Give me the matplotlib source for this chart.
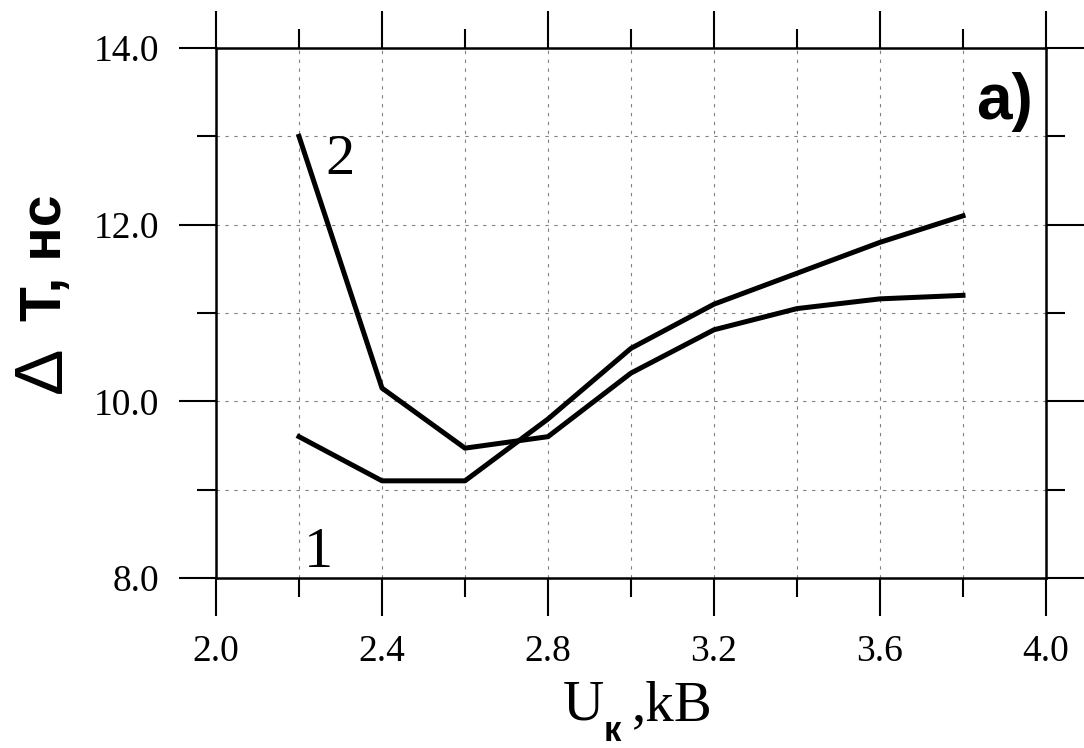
import numpy as np
import matplotlib
matplotlib.use("Agg")
from matplotlib import pyplot as plt
from matplotlib.ticker import MultipleLocator, FormatStrFormatter

# data
U = [2.2, 2.4, 2.6, 2.8, 3.0, 3.2, 3.4, 3.6, 3.8]
DT1 = [9.6, 9.1, 9.1, 9.8, 10.6, 11.1, 11.45, 11.8, 12.1]
DT2 = [13.0, 10.15, 9.47, 9.6, 10.32, 10.81, 11.05, 11.16, 11.2]

XLIM = (2.0, 4.0)
YLIM = (8.0, 14.0)

SERIF = ['Liberation Serif', 'DejaVu Serif']
SANS = ['Liberation Sans', 'DejaVu Sans']

W, H = 1084, 748
fig = plt.figure(figsize=(W / 100, H / 100), dpi=100)
ax = fig.add_axes([216 / W, 1 - 578 / H, (1046 - 216) / W, (578 - 48) / H])

ax.plot(U, DT1, color='black', lw=3.6)
ax.plot(U, DT2, color='black', lw=3.6)

ax.set_xlim(*XLIM)
ax.set_ylim(*YLIM)

ax.xaxis.set_major_locator(MultipleLocator(0.4))
ax.xaxis.set_minor_locator(MultipleLocator(0.2))
ax.yaxis.set_major_locator(MultipleLocator(2.0))
ax.yaxis.set_minor_locator(MultipleLocator(1.0))
ax.xaxis.set_major_formatter(FormatStrFormatter('%.1f'))
ax.yaxis.set_major_formatter(FormatStrFormatter('%.1f'))

ax.grid(which='both', color='0.5', lw=0.8, linestyle=(0, (3, 5)))
ax.set_axisbelow(True)

ax.tick_params(which='both', direction='out', top=True, right=True,
               labeltop=False, labelright=False, color='black')
ax.tick_params(which='major', length=27, width=1.5, pad=14)
ax.tick_params(which='minor', length=13.5, width=1.5)
for s in ax.spines.values():
    s.set_linewidth(1.8)

for lab in ax.get_xticklabels() + ax.get_yticklabels():
    lab.set_family(SERIF)
    lab.set_fontsize(27)

# curve labels
ax.text(2.30, 12.57, '2', family=SERIF, fontsize=42, ha='center', va='baseline')
ax.text(2.246, 8.125, '1', family=SERIF, fontsize=42, ha='center', va='baseline')
ax.text(3.90, 13.2, 'a)', family=SANS, fontsize=46, fontweight='bold',
        ha='center', va='baseline')

# y label: normal-weight delta + bold "T, нс"
fig.text(61 / W, 1 - 370 / H, 'Δ', family=SANS, fontsize=50, rotation=90,
         rotation_mode='anchor', ha='center', va='baseline')
fig.text(61 / W, 1 - 258 / H, 'T, нс', family=SANS, fontsize=41,
         fontweight='bold', rotation=90, rotation_mode='anchor',
         ha='center', va='baseline')

# x label: "U" with bold subscript "к", then ",kB"
fig.text(563 / W, 1 - 720 / H, 'U', family=SERIF, fontsize=41,
         ha='left', va='baseline')
fig.text(604 / W, 1 - 741 / H, 'к', family=SANS, fontsize=25,
         fontweight='bold', ha='left', va='baseline')
fig.text(632 / W, 1 - 720 / H, ',kB', family=SERIF, fontsize=41,
         ha='left', va='baseline')

fig.savefig('out.png', dpi=100)
